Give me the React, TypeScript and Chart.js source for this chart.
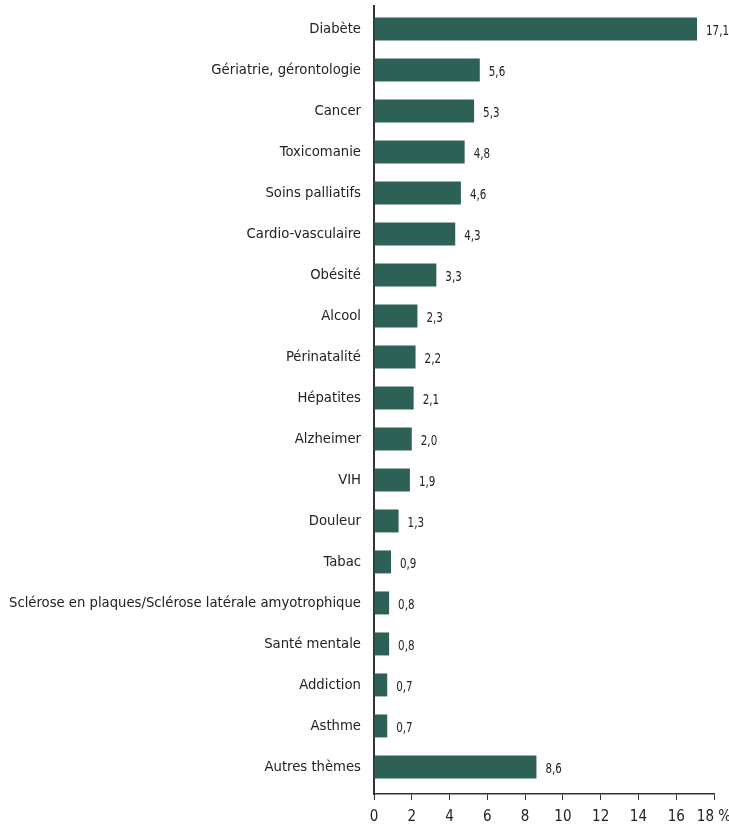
import React, { useEffect, useRef } from "react";
import { Chart, registerables } from "chart.js";

Chart.register(...registerables);

const categories = [
  "Diabète",
  "Gériatrie, gérontologie",
  "Cancer",
  "Toxicomanie",
  "Soins palliatifs",
  "Cardio-vasculaire",
  "Obésité",
  "Alcool",
  "Périnatalité",
  "Hépatites",
  "Alzheimer",
  "VIH",
  "Douleur",
  "Tabac",
  "Sclérose en plaques/Sclérose latérale amyotrophique",
  "Santé mentale",
  "Addiction",
  "Asthme",
  "Autres thèmes",
];

const values = [17.1, 5.6, 5.3, 4.8, 4.6, 4.3, 3.3, 2.3, 2.2, 2.1, 2.0, 1.9, 1.3, 0.9, 0.8, 0.8, 0.7, 0.7, 8.6];

const xTicks = [0, 2, 4, 6, 8, 10, 12, 14, 16, 18];

const FONT = "'Liberation Sans Narrow', 'DejaVu Sans Condensed', 'Roboto', sans-serif";
const BAR_COLOR = "#2e6156";
const AXIS_COLOR = "#333333";
const TEXT_COLOR = "#222222";

const valueLabels = {
  id: "valueLabels",
  afterDatasetsDraw(chart: any) {
    const ctx = chart.ctx;
    const meta = chart.getDatasetMeta(0);
    ctx.save();
    ctx.font = `14px ${FONT}`;
    ctx.fillStyle = TEXT_COLOR;
    ctx.textAlign = "left";
    ctx.textBaseline = "middle";
    meta.data.forEach((bar: any, i: number) => {
      const txt = values[i].toFixed(1).replace(".", ",");
      ctx.save();
      ctx.translate(bar.x + 9, bar.y + 2);
      ctx.scale(0.82, 1);
      ctx.fillText(txt, 0, 0);
      ctx.restore();
    });
    ctx.restore();
  },
};

export default function App() {
  const ref = useRef<HTMLCanvasElement>(null);
  useEffect(() => {
    const chart = new Chart(ref.current!, {
      type: "bar",
      data: {
        datasets: [
          {
            data: values.map((v, i) => ({ x: v, y: i })),
            backgroundColor: BAR_COLOR,
            barPercentage: 0.7,
            categoryPercentage: 0.8,
          },
        ],
      },
      options: {
        indexAxis: "y",
        animation: false,
        responsive: false,
        maintainAspectRatio: false,
        layout: { padding: { top: 6, right: 15, left: 0, bottom: 0 } },
        plugins: { legend: { display: false }, tooltip: { enabled: false } },
        scales: {
          x: {
            type: "linear",
            min: 0,
            max: 18,
            offset: false,
            afterBuildTicks: (s: any) => {
              s.ticks = xTicks.map((v) => ({ value: v }));
            },
            afterFit: (s: any) => {
              s.height = 33;
              s.paddingLeft = 0;
              s.paddingRight = 0;
            },
            grid: { drawOnChartArea: false, drawTicks: true, tickLength: 6, color: AXIS_COLOR, lineWidth: 1 },
            border: { display: true, color: AXIS_COLOR, width: 1.5 },
            ticks: {
              color: TEXT_COLOR,
              font: { family: FONT, size: 15 },
              padding: 8,
              maxRotation: 0,
              callback: (v: any) => (v === 18 ? "18 %" : String(v)),
            },
          },
          y: {
            type: "linear",
            reverse: true,
            offset: false,
            min: -0.56,
            max: 18.66,
            afterBuildTicks: (s: any) => {
              s.ticks = categories.map((_, i) => ({ value: i }));
            },
            afterFit: (s: any) => {
              s.width = 374;
              s.paddingTop = 0;
              s.paddingBottom = 0;
            },
            grid: { display: false, drawTicks: false, offset: false },
            border: { display: true, color: AXIS_COLOR, width: 2 },
            ticks: {
              color: TEXT_COLOR,
              font: { family: FONT, size: 14.7 },
              padding: 13,
              autoSkip: false,
              callback: (v: any) => categories[v] ?? "",
            },
          },
        },
      },
      plugins: [valueLabels],
    } as any);
    return () => chart.destroy();
  }, []);
  return (
    <div style={{ position: "absolute", left: 0, top: 0, width: 729, height: 827, background: "#fff" }}>
      <canvas ref={ref} width={729} height={827} style={{ display: "block" }} />
    </div>
  );
}
